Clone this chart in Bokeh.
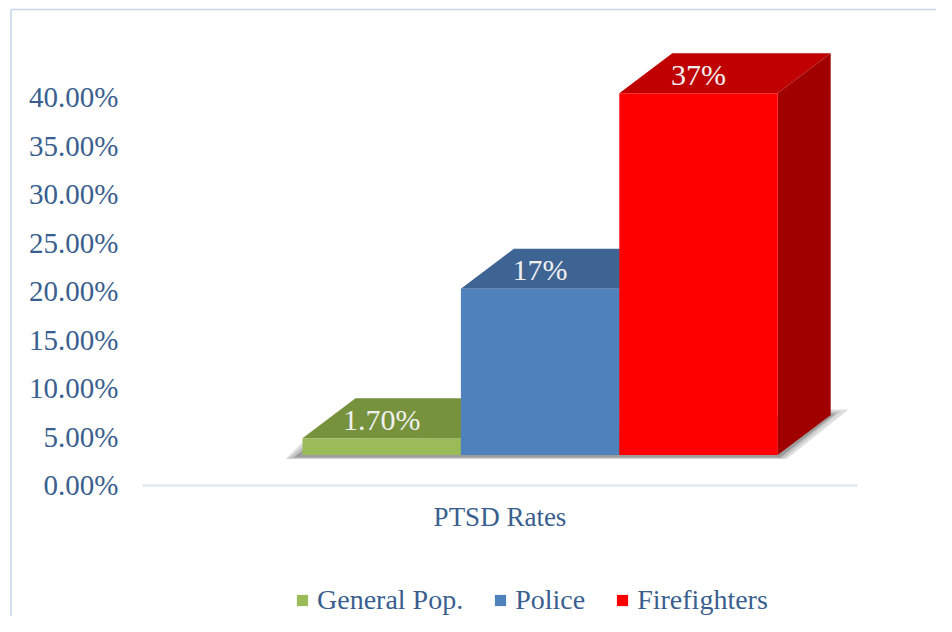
from bokeh.plotting import figure
from bokeh.models import Range1d, LinearAxis, FixedTicker, Legend, LegendItem, ColumnDataSource
from bokeh.core.properties import value
from bokeh.embed import file_html
from bokeh.resources import INLINE

# --- data
SERIES = ["General Pop.", "Police", "Firefighters"]
VALUES = [1.7, 17, 37]
LABELS = ["1.70%", "17%", "37%"]
CATEGORY = "PTSD Rates"
TICKS = [0, 5, 10, 15, 20, 25, 30, 35, 40]
TICK_LABELS = ["0.00%", "5.00%", "10.00%", "15.00%", "20.00%", "25.00%", "30.00%", "35.00%", "40.00%"]

# --- style
FRONT = ["#9bbb59", "#4f81bd", "#ff0000"]
TOP = ["#76923c", "#3e6493", "#c00000"]
SIDE = ["#5f752f", "#2f4d70", "#a00000"]
TEXT = "#3a5f8e"
FONT = "Liberation Serif"
FS = "29px"

W, H = 936, 616
PX_PER_PCT = 9.7
Y0_PX = 484.5
BAR_STRETCH = 9.78 / 9.7
FLOOR = 30 / PX_PER_PCT
DX, DY = 53, 40 / PX_PER_PCT
BAR_LEFT, BAR_W = 302, 158.4


def py(px_y):
    return (Y0_PX - px_y) / PX_PER_PCT


p = figure(width=W, height=H, output_backend="svg", toolbar_location=None,
           x_range=Range1d(0, W),
           y_range=Range1d(py(H), py(0)),
           x_axis_type=None, y_axis_type=None,
           min_border=0, min_border_left=0, min_border_right=0, min_border_top=0, min_border_bottom=0)
p.grid.visible = False
p.outline_line_color = None
p.background_fill_color = "white"
p.border_fill_color = "white"

# chart frame
p.segment(x0=[10.5, 10.5], y0=[py(9), py(9)], x1=[W, 10.5], y1=[py(9), py(H)],
          line_color="#c6d6eb", line_width=1.5)

# floor shadow
p.patch([848, 786, 285, 302, 832], [py(409), py(458.5), py(458.5), py(442), py(409)],
        fill_color="#dddddd", line_color=None)
p.patch([840, 783, 288, 302, 832], [py(411), py(458), py(458), py(446), py(411)],
        fill_color="#c4c4c4", line_color=None)
p.patch([835, 780, 293, 302, 832], [py(413), py(457), py(457), py(450), py(413)],
        fill_color="#9c9c9c", line_color=None)

# bars
fronts = []
for i, (v, lab) in enumerate(zip(VALUES, SERIES)):
    x0 = BAR_LEFT + i * BAR_W
    x1 = x0 + BAR_W
    top = FLOOR + v * BAR_STRETCH
    p.patch([x0, x0 + DX, x1 + DX, x1], [top, top + DY, top + DY, top],
            fill_color=TOP[i], line_color=None)
    p.patch([x1, x1 + DX, x1 + DX, x1], [FLOOR, FLOOR + DY, top + DY, top],
            fill_color=SIDE[i], line_color=None)
    fronts.append(p.vbar(x=[(x0 + x1) / 2], width=BAR_W, bottom=FLOOR, top=top,
                         fill_color=FRONT[i], line_color=None))

# value labels
src = ColumnDataSource(dict(
    x=[BAR_LEFT + (i + 0.5) * BAR_W for i in range(3)],
    y=[FLOOR + v * BAR_STRETCH for v in VALUES],
    t=LABELS))
p.text(x="x", y="y", text="t", source=src, text_color="#f0f0f0", text_font=value(FONT),
       text_font_size="30px", text_align="center", text_baseline="middle", y_offset=-19)

# y axis
yax = LinearAxis(fixed_location=122, ticker=FixedTicker(ticks=TICKS),
                 major_label_overrides=dict(zip(TICKS, TICK_LABELS)))
yax.axis_line_color = None
yax.major_tick_line_color = None
yax.major_tick_out = 0
yax.major_tick_in = 0
yax.minor_tick_line_color = None
yax.major_label_standoff = 4
yax.major_label_text_color = TEXT
yax.major_label_text_font = FONT
yax.major_label_text_font_size = FS
p.add_layout(yax, "left")

# x axis
XC = 499.5
xax = LinearAxis(fixed_location=0, ticker=FixedTicker(ticks=[XC]),
                 major_label_overrides={XC: CATEGORY}, bounds=(142, 857))
xax.axis_line_color = "#d9e5f5"
xax.axis_line_width = 2
xax.major_tick_line_color = None
xax.major_tick_out = 0
xax.major_tick_in = 0
xax.minor_tick_line_color = None
xax.major_label_standoff = 17
xax.major_label_text_color = TEXT
xax.major_label_text_font = FONT
xax.major_label_text_font_size = "27px"
p.add_layout(xax, "below")

# legend
legend = Legend(items=[LegendItem(label=s, renderers=[r]) for s, r in zip(SERIES, fronts)],
                orientation="horizontal", location=(295, 0),
                glyph_width=14, glyph_height=14, label_standoff=8, spacing=30,
                margin=0, padding=4, border_line_color=None, background_fill_alpha=0,
                label_text_color=TEXT, label_text_font=FONT, label_text_font_size="28px")
p.add_layout(legend, "center")

open("out.html", "w").write(file_html(p, INLINE))
